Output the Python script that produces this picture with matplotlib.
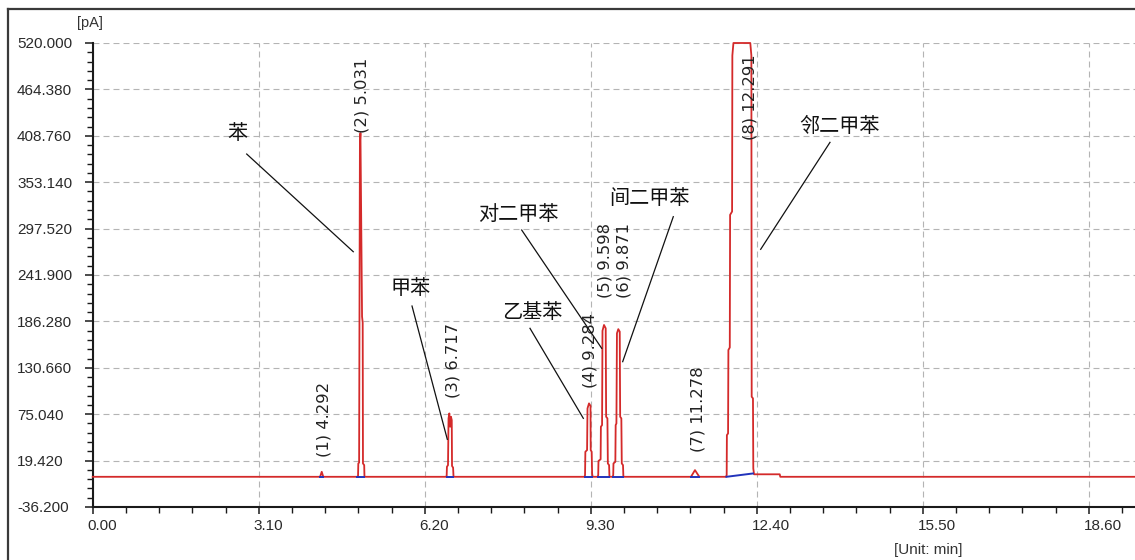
#Gas chromatogram of benzene series (FID signal)
import numpy as np
import matplotlib.pyplot as plt
import matplotlib.transforms as mtransforms
from matplotlib.lines import Line2D
from matplotlib.ticker import MultipleLocator, FixedLocator

plt.rcParams['lines.scale_dashes'] = False

#Retention times and labels of the integrated peaks
rt = [4.292, 5.031, 6.717, 9.284, 9.598, 9.871, 11.278, 12.291]
compounds = ["苯", "甲苯", "乙基苯", "对二甲苯", "间二甲苯", "邻二甲苯"]

#Signal trace, peak by peak (time in min, signal in pA)
peak1_t = [4.246, 4.277, 4.306]
peak1_v = [0, 6, 0]
peak2_t = [4.94, 4.955, 4.96, 4.975, 4.99, 5.00, 5.03, 5.042, 5.047, 5.07, 5.075]
peak2_v = [0, 1, 16, 17, 400, 412, 192, 185, 16, 14, 0]
peak3_t = [6.60, 6.61, 6.615, 6.635, 6.645, 6.66, 6.675, 6.69, 6.705, 6.71, 6.73, 6.738]
peak3_v = [0, 1, 12, 14, 70, 76, 60, 72, 68, 13, 11, 0]
peak4_t = [9.185, 9.194, 9.20, 9.232, 9.24, 9.268, 9.296, 9.30, 9.318, 9.326, 9.335]
peak4_v = [0, 2, 30, 32, 82, 88, 85, 32, 30, 4, 0]
peak5_t = [9.43, 9.44, 9.445, 9.485, 9.49, 9.512, 9.52, 9.548, 9.58, 9.588, 9.612, 9.62, 9.643, 9.65]
peak5_v = [0, 2, 19, 21, 60, 62, 175, 182, 178, 72, 70, 16, 14, 0]
peak6_t = [9.71, 9.72, 9.725, 9.76, 9.766, 9.78, 9.79, 9.815, 9.842, 9.85, 9.872, 9.88, 9.903, 9.91]
peak6_v = [0, 2, 16, 18, 62, 64, 172, 177, 174, 72, 70, 16, 14, 0]
peak7_t = [11.172, 11.247, 11.328]
peak7_v = [0, 8, 0]
peak8_t = [11.825, 11.839, 11.843, 11.865, 11.871, 11.897, 11.903, 11.94, 11.945, 11.965,
           12.28, 12.30, 12.306, 12.33, 12.336, 12.35, 12.83, 12.84]
peak8_v = [0, 2, 50, 52, 152, 155, 314, 318, 505, 520, 520, 505, 96, 94, 10, 3, 3, 0]

#Integration baselines (blue) under each peak
base_t0 = [4.246, 4.94, 6.61, 9.19, 9.44, 9.72, 11.172, 11.835]
base_t1 = [4.306, 5.075, 6.735, 9.33, 9.645, 9.91, 11.328, 12.33]
base_v0 = [0, 0, 0, 0, 0, 0, 0, 0]
base_v1 = [0, 0, 0, 0, 0, 0, 0, 4]

#Axis ticks
y_ticks = [-36.2, 19.42, 75.04, 130.66, 186.28, 241.9, 297.52, 353.14, 408.76, 464.38, 520.0]
x_ticks = [0.0, 3.1, 6.2, 9.3, 12.4, 15.5, 18.6]

#Layout of labels (not data)
label_x = [4.31, 5.031, 6.725, 9.295, 9.572, 9.915, 11.3, 12.27]
label_y = [23.7, 412, 94.4, 106.4, 214.3, 214.3, 30, 403.7]
name_xy = [(2.695, 412.1), (5.944, 226), (8.213, 197.5), (7.942, 315), (10.388, 334.2), (13.955, 420.5)]
lead_from = [(2.876, 386.9), (5.963, 204.7), (8.166, 178), (8.011, 295.8), (10.842, 311.8), (13.768, 400.9)]
lead_to = [(4.866, 269.8), (6.622, 44.9), (9.162, 70.1), (9.505, 154), (9.897, 138), (12.474, 272.7)]

trace_t = [0.0] + peak1_t + peak2_t + peak3_t + peak4_t + peak5_t + peak6_t + peak7_t + peak8_t + [19.6]
trace_v = [0.0] + peak1_v + peak2_v + peak3_v + peak4_v + peak5_v + peak6_v + peak7_v + peak8_v + [0.0]

W, H = 1135, 560
fig = plt.figure(figsize=(W/100, H/100), dpi=100)
ax = fig.add_axes([92.7/W, 53/H, 1 - 92.7/W, 464/H])

ax.plot(trace_t, trace_v, color="#d42a2a", lw=1.3, clip_on=False, zorder=3)
for i in range(len(base_t0)):
    ax.plot([base_t0[i], base_t1[i]], [base_v0[i], base_v1[i]], color="#2233bb", lw=1.4, zorder=4)

ax.set_xlim(0, (W - 92.7)/53.55)
ax.set_ylim(-36.2, 520)

ax.set_axisbelow(True)
ax.grid(True, which="major", color="#b4b4b4", ls=(0, (4.3, 2.9)), lw=0.8)

for s in ["top", "right"]:
    ax.spines[s].set_visible(False)
for s in ["left", "bottom"]:
    ax.spines[s].set_linewidth(1.5)
    ax.spines[s].set_color("#1a1a1a")

ax.set_yticks(y_ticks, labels=["%.3f" % v for v in y_ticks])
ax.yaxis.set_minor_locator(FixedLocator(np.linspace(-36.2, 520, 51)))
ax.set_xticks(x_ticks, labels=["%.2f" % v for v in x_ticks])
ax.xaxis.set_minor_locator(MultipleLocator(0.62))

ax.tick_params(axis="y", which="major", direction="out", length=5.8, width=1.1, pad=48.7,
               labelsize=11, labelcolor="#2a2a2a", color="#1a1a1a")
ax.tick_params(axis="y", which="minor", direction="out", length=4.0, width=1.0, color="#1a1a1a")
ax.tick_params(axis="x", which="major", direction="out", length=5.0, width=1.1, pad=3.5,
               labelsize=11, labelcolor="#2a2a2a", color="#1a1a1a")
ax.tick_params(axis="x", which="minor", direction="out", length=4.5, width=1.0, color="#1a1a1a")

for lbl in ax.get_yticklabels():
    lbl.set_fontfamily("Liberation Sans")
    lbl.set_horizontalalignment("left")
shift = mtransforms.ScaledTranslation(-5/100, 0, fig.dpi_scale_trans)
for lbl in ax.get_xticklabels():
    lbl.set_fontfamily("Liberation Sans")
    lbl.set_horizontalalignment("left")
    lbl.set_transform(lbl.get_transform() + shift)

#Peak labels
for i in range(len(rt)):
    ax.text(label_x[i], label_y[i], "(%d) %.3f" % (i + 1, rt[i]), rotation=90, ha="center", va="bottom",
            fontsize=11.8, family="DejaVu Sans", color="#222222", zorder=5)

#Compound names with leader lines
for i in range(len(compounds)):
    ax.text(name_xy[i][0], name_xy[i][1], compounds[i], ha="center", va="center", fontsize=14.5,
            family=["Noto Sans CJK SC", "DejaVu Sans"], color="#111111", zorder=5)
    ax.plot([lead_from[i][0], lead_to[i][0]], [lead_from[i][1], lead_to[i][1]], color="#111111", lw=0.9, zorder=5)

fig.text(90/W, 1 - 23.5/H, "[pA]", ha="center", va="center", fontsize=10.5, family="Liberation Sans", color="#333333")
fig.text(928/W, 1 - 550/H, "[Unit: min]", ha="center", va="center", fontsize=11, family="Liberation Sans", color="#333333")

#Window frame
fig.add_artist(Line2D([8/W, 1], [1 - 9/H, 1 - 9/H], color="#3a3a3a", lw=1.6, transform=fig.transFigure))
fig.add_artist(Line2D([8/W, 8/W], [0, 1 - 9/H], color="#3a3a3a", lw=1.6, transform=fig.transFigure))

fig.savefig("out.png", dpi=100)
